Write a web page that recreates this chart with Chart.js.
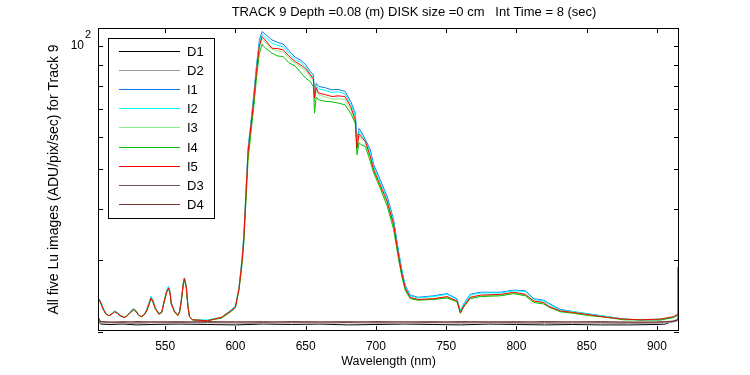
<!DOCTYPE html>
<html>
<head>
<meta charset="utf-8">
<script src="https://cdn.jsdelivr.net/npm/chart.js@4.4.1/dist/chart.umd.min.js"></script>
<style>
  html, body { margin: 0; padding: 0; background: #fff; }
</style>
</head>
<body>
<canvas id="lu-chart" width="750" height="375"></canvas>
<script>
const titleText = 'TRACK 9 Depth =0.08 (m) DISK size =0 cm   Int Time = 8 (sec)';
const xTitle = 'Wavelength (nm)';
const yTitle = 'All five Lu images (ADU/pix/sec) for Track 9';

const xTickValues = [550, 600, 650, 700, 750, 800, 850, 900];
const yTickValues = [20, 30, 40, 50, 60, 70, 80, 90, 100];

const seriesNames = ['D1', 'D2', 'I1', 'I2', 'I3', 'I4', 'I5', 'D3', 'D4'];
const seriesColors = ['#000000', '#999999', '#0f78e8', '#00ffff', '#88f088', '#00c000', '#ff0000', '#7a5555', '#7a3535'];

// wavelengths for the light (I) spectra
const wavelengths = [503, 504.5, 506, 508, 510, 512, 514, 516, 518, 521, 523, 525.5, 527.5, 529.5, 531, 533, 535, 537, 538.5, 540,
  541.3, 543, 545.5, 547.5, 549.5, 551, 552.4, 553.5, 554.3, 556.6, 559, 560.2, 561.4, 563, 563.7, 565, 566.2, 567.3, 569.5,
  580, 590, 596, 600, 602.5, 604.8, 606, 609, 611, 613, 615, 617, 619, 621, 626, 630, 634, 638, 642.6, 646,
  650, 653.3, 655.5, 656.3, 657.5, 659.2, 664, 668.7, 673, 678, 682, 685.3, 686.5, 688, 689.5, 692.5, 696, 698.4,
  703, 708, 712.6, 716.2, 718.6, 721, 724.5, 730, 741, 750.6, 757.7, 760.1, 762.5, 767, 774.4, 788.6, 798.1,
  806.4, 812.3, 819.4, 823, 831.3, 840.8, 852.7, 864.6, 876.4, 888.3, 902.6, 912, 914.7];

const i1 = [24.1, 23.5, 22.8, 22.1, 21.9, 22.1, 22.5, 22.3, 21.9, 21.7, 21.9, 22.5, 22.8, 22.5, 22.0, 21.8, 22.0, 22.7, 23.6, 24.4,
  23.9, 22.9, 22.2, 22.3, 24.0, 25.2, 25.8, 25.0, 23.6, 22.5, 22.0, 22.4, 23.8, 26.5, 27.1, 25.9, 23.2, 21.8, 21.4,
  21.3, 21.7, 22.5, 23.1, 25.6, 30.4, 34.6, 56.2, 65.0, 75.5, 89.5, 103.0, 108.4, 107.0, 103.4, 102.0, 101.0, 97.5, 93.8, 92.5,
  90.0, 86.6, 85.0, 76.0, 81.0, 79.6, 79.0, 78.1, 78.3, 77.4, 73.2, 68.5, 59.0, 62.8, 61.8, 59.0, 55.8, 51.3,
  47.1, 42.9, 37.6, 31.4, 28.2, 25.9, 24.6, 24.3, 24.5, 24.8, 24.1, 22.5, 23.4, 24.7, 25.0, 25.0, 25.3,
  25.2, 24.1, 23.9, 23.5, 22.7, 22.4, 22.1, 21.8, 21.5, 21.4, 21.4, 21.7, 22.0];

const i2 = [24.1, 23.5, 22.8, 22.1, 21.9, 22.1, 22.5, 22.3, 21.9, 21.7, 21.9, 22.5, 22.8, 22.4, 22.0, 21.8, 22.0, 22.7, 23.5, 24.4,
  23.8, 22.9, 22.2, 22.3, 24.0, 25.1, 25.8, 25.0, 23.6, 22.5, 22.0, 22.4, 23.7, 26.5, 27.1, 25.9, 23.2, 21.8, 21.4,
  21.4, 21.7, 22.5, 23.1, 25.5, 30.2, 34.3, 55.5, 64.0, 74.5, 88.0, 101.5, 106.8, 105.3, 101.5, 100.4, 99.5, 96.0, 92.5, 91.3,
  88.8, 85.5, 83.8, 75.2, 79.8, 78.5, 77.8, 77.0, 77.2, 76.3, 72.2, 67.5, 58.0, 61.9, 60.9, 58.3, 55.0, 50.6,
  46.5, 42.3, 37.1, 31.0, 27.9, 25.7, 24.5, 24.2, 24.4, 24.7, 24.0, 22.5, 23.3, 24.6, 24.9, 24.9, 25.2,
  25.1, 24.0, 23.8, 23.4, 22.6, 22.4, 22.1, 21.8, 21.5, 21.4, 21.5, 21.7, 22.0];

const i3 = [24.0, 23.4, 22.7, 22.1, 21.9, 22.1, 22.4, 22.2, 21.9, 21.7, 21.9, 22.4, 22.7, 22.4, 22.0, 21.8, 22.0, 22.6, 23.4, 24.2,
  23.7, 22.8, 22.1, 22.3, 23.9, 25.0, 25.6, 24.9, 23.5, 22.4, 21.95, 22.4, 23.7, 26.4, 27.0, 25.8, 23.1, 21.8, 21.4,
  21.3, 21.7, 22.4, 23.0, 25.4, 29.9, 33.8, 54.5, 63.0, 72.8, 86.0, 99.0, 104.0, 102.5, 98.0, 97.5, 96.5, 93.5, 90.8, 89.0,
  87.0, 84.0, 82.0, 73.0, 78.0, 76.0, 75.0, 74.2, 74.2, 74.0, 70.0, 65.5, 55.5, 60.2, 59.2, 58.0, 53.0, 49.4,
  45.4, 41.3, 36.2, 30.3, 27.4, 25.4, 24.2, 24.0, 24.1, 24.3, 23.8, 22.3, 23.1, 24.2, 24.5, 24.6, 24.9,
  24.6, 23.8, 23.5, 23.1, 22.5, 22.3, 22.0, 21.7, 21.5, 21.4, 21.4, 21.7, 22.0];

const i4 = [24.0, 23.3, 22.6, 22.1, 21.9, 22.1, 22.4, 22.2, 21.9, 21.7, 21.9, 22.3, 22.6, 22.4, 22.0, 21.8, 22.0, 22.5, 23.3, 24.1,
  23.6, 22.8, 22.1, 22.3, 23.8, 24.9, 25.5, 24.8, 23.4, 22.4, 21.9, 22.3, 23.6, 26.2, 26.8, 25.6, 23.0, 21.8, 21.4,
  21.3, 21.6, 22.3, 22.9, 25.2, 29.4, 33.0, 52.5, 61.0, 70.5, 83.5, 95.5, 101.0, 99.0, 96.0, 94.5, 94.2, 91.0, 89.2, 86.5,
  83.4, 81.8, 79.5, 68.5, 75.0, 73.8, 73.2, 73.0, 72.5, 71.8, 68.5, 64.7, 54.2, 58.0, 57.3, 56.8, 52.2, 48.9,
  45.0, 40.6, 35.6, 30.0, 27.1, 25.2, 24.1, 23.9, 24.0, 24.2, 23.7, 22.2, 23.0, 24.1, 24.4, 24.5, 24.8,
  24.5, 23.6, 23.4, 23.0, 22.4, 22.2, 21.9, 21.7, 21.4, 21.4, 21.4, 21.7, 22.0];

const i5 = [24.0, 23.4, 22.7, 22.1, 21.9, 22.1, 22.4, 22.2, 21.9, 21.7, 21.9, 22.4, 22.7, 22.4, 22.0, 21.8, 22.0, 22.6, 23.4, 24.2,
  23.7, 22.8, 22.1, 22.3, 23.9, 25.0, 25.6, 24.9, 23.5, 22.4, 21.95, 22.4, 23.7, 26.4, 27.0, 25.8, 23.1, 21.8, 21.4,
  21.3, 21.7, 22.4, 23.0, 25.4, 30.0, 34.0, 55.0, 63.5, 73.5, 87.0, 100.0, 105.4, 103.5, 98.7, 98.5, 97.8, 94.5, 91.5, 90.0,
  88.0, 85.0, 83.0, 74.6, 79.0, 76.7, 76.0, 75.2, 75.5, 75.2, 71.1, 66.0, 56.3, 61.0, 60.0, 58.4, 53.7, 49.8,
  45.8, 41.7, 36.6, 30.6, 27.6, 25.5, 24.3, 24.0, 24.1, 24.4, 23.8, 22.3, 23.1, 24.3, 24.6, 24.7, 25.0,
  24.7, 23.8, 23.6, 23.1, 22.5, 22.3, 22.0, 21.7, 21.5, 21.4, 21.5, 21.8, 22.1];

// wavelengths for the dark (D) spectra
const darkWavelengths = [502.3, 504, 510, 520, 530, 540, 560, 580, 600, 620, 640, 660, 680, 700, 720, 740, 760, 780,
  800, 820, 840, 860, 880, 900, 906, 911, 914.5, 914.9];

const d1 = [21.5, 20.9, 20.85, 20.9, 20.8, 20.85, 20.9, 20.85, 20.8, 20.9, 20.85, 20.9, 20.8, 20.85, 20.9, 20.85, 20.8, 20.9,
  20.85, 20.8, 20.85, 20.8, 20.8, 20.85, 20.9, 21.2, 21.4, 21.5];
const d2 = [21.6, 21.0, 21.05, 21.0, 20.95, 21.05, 21.0, 21.05, 21.0, 20.95, 21.05, 21.0, 21.05, 21.0, 20.95, 21.05, 21.0, 21.05,
  21.0, 20.95, 21.0, 21.0, 20.95, 21.0, 21.05, 21.1, 21.3, 21.5];
const d3 = [21.7, 21.15, 21.1, 21.2, 21.1, 21.15, 21.2, 21.1, 21.15, 21.2, 21.1, 21.15, 21.2, 21.1, 21.15, 21.2, 21.1, 21.15,
  21.2, 21.1, 21.15, 21.1, 21.15, 21.1, 21.15, 21.2, 21.3, 21.6];
const d4 = [21.7, 21.2, 21.15, 21.1, 21.2, 21.15, 21.1, 21.2, 21.15, 21.1, 21.2, 21.15, 21.1, 21.2, 21.15, 21.1, 21.2, 21.15,
  21.1, 21.2, 21.15, 21.2, 21.1, 21.15, 21.2, 21.25, 21.4, 28.8];

const FONT = '"Liberation Sans", Arial, sans-serif';

function toPoints(xs, ys) {
    return xs.map((x, i) => ({ x: x, y: ys[i] }));
}

const seriesData = [
    toPoints(darkWavelengths, d1),
    toPoints(darkWavelengths, d2),
    toPoints(wavelengths, i1),
    toPoints(wavelengths, i2),
    toPoints(wavelengths, i3),
    toPoints(wavelengths, i4),
    toPoints(wavelengths, i5),
    toPoints(darkWavelengths, d3),
    toPoints(darkWavelengths, d4),
];

// MATLAB-like frame: box, inward ticks, 10^2 label, title and legend
const framePlugin = {
    id: 'matlabFrame',
    afterDraw(chart) {
        const { ctx, chartArea: a, scales } = chart;
        const x = scales.x, y = scales.y;
        const tick = 5;
        ctx.save();
        ctx.strokeStyle = '#000';
        ctx.lineWidth = 1;
        ctx.strokeRect(a.left + 0.5, a.top + 0.5, a.right - a.left - 1, a.bottom - a.top - 1);

        ctx.beginPath();
        xTickValues.forEach(v => {
            const px = Math.round(x.getPixelForValue(v)) + 0.5;
            ctx.moveTo(px, a.bottom); ctx.lineTo(px, a.bottom - tick);
            ctx.moveTo(px, a.top); ctx.lineTo(px, a.top + tick);
        });
        yTickValues.forEach(v => {
            const py = Math.round(y.getPixelForValue(v)) + 0.5;
            ctx.moveTo(a.left, py); ctx.lineTo(a.left + tick, py);
            ctx.moveTo(a.right, py); ctx.lineTo(a.right - tick, py);
        });
        ctx.stroke();

        // 10^2 label
        const p100 = y.getPixelForValue(100);
        ctx.fillStyle = '#000';
        ctx.font = '12px ' + FONT;
        ctx.textAlign = 'right';
        ctx.textBaseline = 'middle';
        ctx.fillText('10', a.left - 14, p100);
        ctx.font = '11px ' + FONT;
        ctx.textAlign = 'left';
        ctx.fillText('2', a.left - 13, p100 - 11);

        // title
        ctx.font = '13px ' + FONT;
        ctx.textAlign = 'center';
        ctx.fillText(titleText, 414, 12);

        // legend
        const lx = a.left + 10, ly = a.top + 10, lw = 106, lh = 180, row = 19.1;
        ctx.fillStyle = '#fff';
        ctx.fillRect(lx, ly, lw, lh);
        ctx.strokeRect(lx + 0.5, ly + 0.5, lw, lh);
        ctx.font = '13px ' + FONT;
        ctx.textAlign = 'left';
        seriesNames.forEach((name, i) => {
            const ry = Math.round(ly + 13 + i * row) + 0.5;
            ctx.strokeStyle = seriesColors[i];
            ctx.beginPath();
            ctx.moveTo(lx + 11, ry); ctx.lineTo(lx + 72, ry);
            ctx.stroke();
            ctx.fillStyle = '#000';
            ctx.fillText(name, lx + 79, ry + 1);
        });
        ctx.restore();
    }
};

new Chart(document.getElementById('lu-chart').getContext('2d'), {
    type: 'line',
    data: {
        datasets: seriesNames.map((name, i) => ({
            label: name,
            data: seriesData[i],
            borderColor: seriesColors[i],
            borderWidth: 1,
            pointRadius: 0,
            tension: 0,
            fill: false,
            order: seriesNames.length - i,
        }))
    },
    options: {
        responsive: false,
        animation: false,
        layout: { padding: { left: 0, right: 71, top: 28, bottom: 0 } },
        scales: {
            x: {
                type: 'linear',
                min: 502.2,
                max: 915.7,
                afterFit: s => { s.height = 44; },
                afterBuildTicks: s => { s.ticks = xTickValues.map(v => ({ value: v })); },
                grid: { display: false, drawTicks: false },
                border: { display: false },
                ticks: { color: '#000', font: { family: FONT, size: 12 }, padding: 8, autoSkip: false, maxRotation: 0 },
                title: { display: true, text: xTitle, color: '#000', font: { family: FONT, size: 12.5, lineHeight: 1 }, padding: { top: 0, bottom: 7 } }
            },
            y: {
                type: 'logarithmic',
                min: 20.1,
                max: 110.6,
                afterFit: s => { s.width = 98; },
                grid: { display: false, drawTicks: false },
                border: { display: false },
                ticks: { display: false },
                title: { display: true, text: yTitle, color: '#000', font: { family: FONT, size: 14, lineHeight: 1 }, padding: { top: 47, bottom: 0 } }
            }
        },
        plugins: {
            legend: { display: false },
            tooltip: { enabled: false },
            title: { display: false }
        }
    },
    plugins: [framePlugin]
});
</script>
</body>
</html>
